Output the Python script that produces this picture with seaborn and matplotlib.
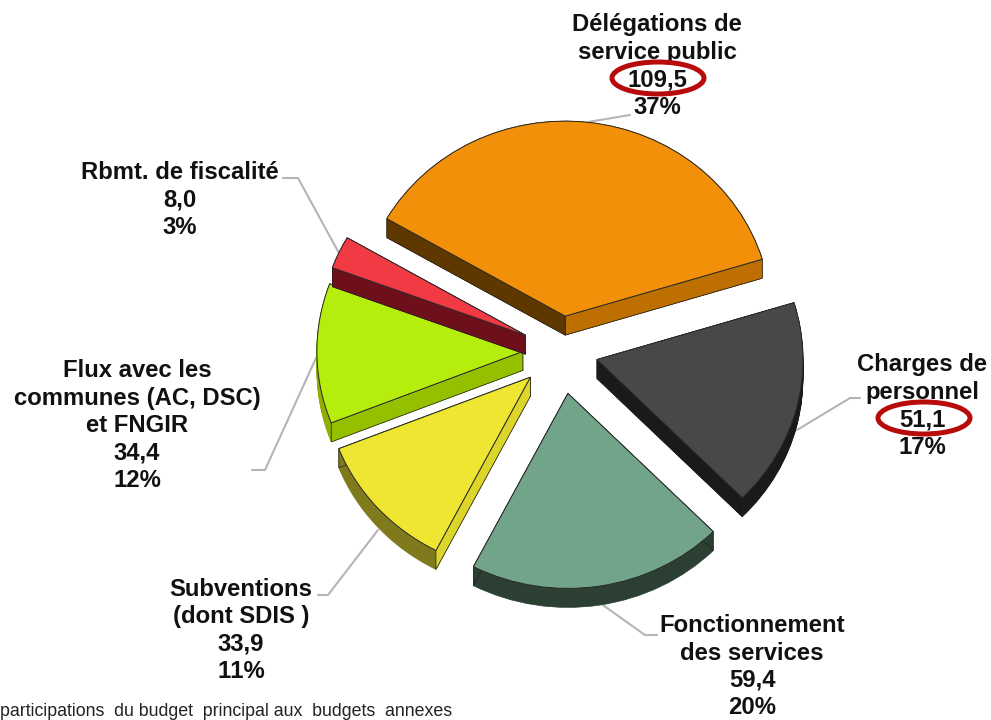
import matplotlib
matplotlib.use("Agg")
import numpy as np
import matplotlib.pyplot as plt
import seaborn as sns
from matplotlib.patches import Ellipse, Polygon

# Budget breakdown
categories = ["Délégations de\nservice public", "Charges de\npersonnel", "Fonctionnement\ndes services",
              "Subventions\n(dont SDIS )", "Flux avec les\ncommunes (AC, DSC)\net FNGIR", "Rbmt. de fiscalité"]
values = [109.5, 51.1, 59.4, 33.9, 34.4, 8.0]
value_labels = ["109,5", "51,1", "59,4", "33,9", "34,4", "8,0"]
percents = ["37%", "17%", "20%", "11%", "12%", "3%"]
note = "participations  du budget  principal aux  budgets  annexes"

explode = [0.18, 0.18, 0.22, 0.20, 0.185, 0.19]
top_colors = ["#f29109", "#484848", "#72a48a", "#eee631", "#b5ee0c", "#f23a45"]
side_colors = ["#5f3800", "#1a1a1a", "#2b4033", "#7f7a1c", "#8fae00", "#6e101c"]
face_low = ["#bd6f00", "#1a1a1a", "#2b4033", "#7f7a1c", "#8fae00", "#6e101c"]
face_high = ["#5f3800", "#1a1a1a", "#2b4033", "#dcd62a", "#95c000", "#6e101c"]
slice_z = [2, 3, 3, 3, 4, 5]

sns.set_theme(style="white")
plt.rcParams['font.family'] = ['Liberation Sans', 'DejaVu Sans']
plt.rcParams['text.kerning_factor'] = 6

W, H = 991, 720
cx, cy = 561, 351      # pie centre, pixels
rx, ry = 206, 195      # pie radii, pixels
depth = 19 / ry

fig = plt.figure(figsize=(W / 100, H / 100), dpi=100)

# -------------------------------
# Labels layer (pixel coordinates)
# -------------------------------
under = fig.add_axes([0, 0, 1, 1], zorder=0)
under.set_xlim(0, W)
under.set_ylim(H, 0)
under.axis('off')

leaders = [[(588, 122), (630, 115)],
           [(797, 430), (850, 398), (860, 398)],
           [(600, 603), (645, 635), (657, 635)],
           [(378, 530), (328, 595), (318, 595)],
           [(316, 358), (265, 470), (252, 470)],
           [(340, 255), (298, 178), (283, 178)]]
label_pos = [(657, 13), (922, 353), (752, 614), (241, 578), (137, 359), (180, 161)]

for i, name in enumerate(categories):
    xs, ys = zip(*leaders[i])
    under.plot(xs, ys, color="#b5b5b5", lw=1.5, zorder=1)
    txt = name + "\n" + value_labels[i] + "\n" + percents[i]
    under.text(label_pos[i][0], label_pos[i][1], txt, ha='center', va='top', fontsize=17.2,
               fontweight='bold', color="#111111", linespacing=1.25, zorder=2)

under.text(0.5, 711, note, ha='left', va='center', fontsize=12.8, color="#222222")

for pos in [(658, 78), (924, 418)]:
    under.add_patch(Ellipse(pos, 92, 32, fill=False, ec="#b80c0c", lw=3.6, zorder=3))

# -------------------------------
# Pie layer
# -------------------------------
ax = fig.add_axes([0, 0, 1, 1], zorder=1)

# stacked dark pies give the thickness
for d in np.linspace(depth, 0, 20):
    wedges, _ = ax.pie(values, explode=explode, colors=sns.color_palette(side_colors), startangle=150,
                       counterclock=False, center=(0, -d), radius=1, frame=False)
    for i, w in enumerate(wedges):
        w.set_zorder(slice_z[i])
        w.set_edgecolor(side_colors[i])
        w.set_linewidth(0.5)

wedges, _ = ax.pie(values, explode=explode, colors=sns.color_palette(top_colors), startangle=150,
                   counterclock=False, radius=1, frame=False,
                   wedgeprops=dict(edgecolor="#2a2a2a", linewidth=0.7))

# cut faces of each slice, taken from the wedge geometry
for i, w in enumerate(wedges):
    w.set_zorder(slice_z[i] + 0.2)
    x0, y0 = w.center
    for theta, col in [(w.theta1, face_low[i]), (w.theta2, face_high[i])]:
        ex = x0 + np.cos(np.radians(theta))
        ey = y0 + np.sin(np.radians(theta))
        ax.add_patch(Polygon([(x0, y0), (ex, ey), (ex, ey - depth), (x0, y0 - depth)], closed=True,
                             fc=col, ec="#222222", lw=0.5, zorder=slice_z[i] + 0.1))

ax.set_aspect('auto')
ax.set_xlim(-cx / rx, (W - cx) / rx)
ax.set_ylim(-(H - cy) / ry, cy / ry)
ax.axis('off')

fig.savefig("out.png", dpi=100)
